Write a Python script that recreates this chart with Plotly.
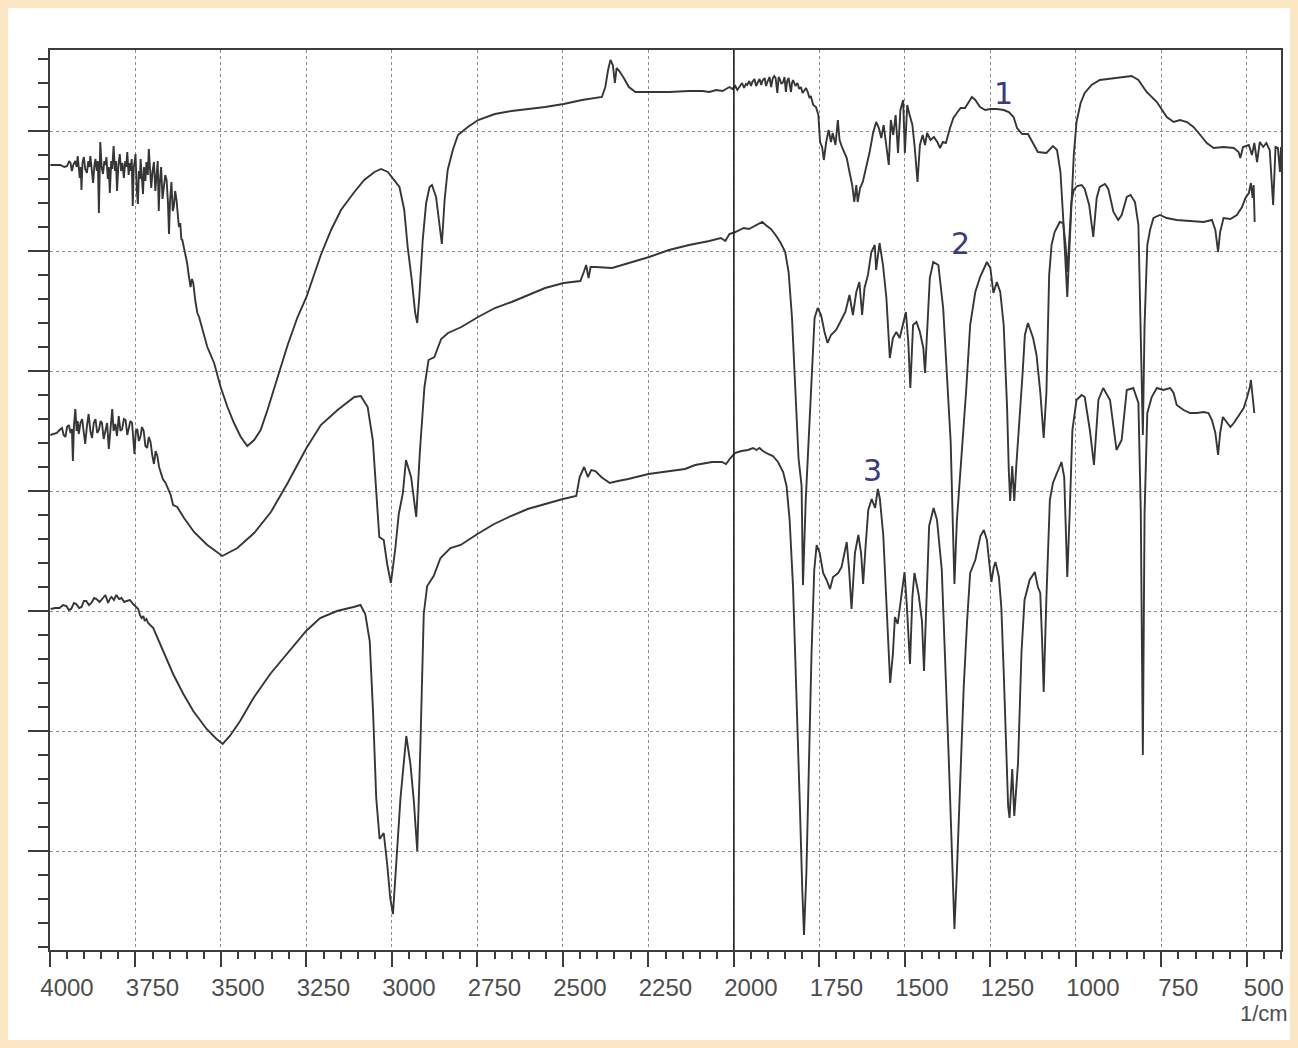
import plotly.graph_objects as go

# IR spectra (wavenumber in 1/cm, transmittance in arbitrary offset units)
spectrum1 = [
    (3999,686),(3985,686),(3970,686),(3958,684),(3950,685),(3944,690),(3940,688),(3936,680),(3932,686),(3926,690),
    (3922,684),(3919,695),(3916,680),(3913,673),(3910,684),(3908,661),(3905,688),(3901,694),(3897,682),(3892,678),
    (3888,690),(3885,684),(3882,695),(3878,680),(3874,668),(3870,686),(3867,692),(3863,680),(3860,690),(3857,638),
    (3855,690),(3853,709),(3849,684),(3845,677),(3841,690),(3838,686),(3835,694),(3831,672),(3828,684),(3825,658),
    (3821,690),(3818,682),(3814,705),(3810,680),(3807,690),(3804,660),(3800,686),(3796,697),(3792,680),(3788,688),
    (3784,673),(3780,690),(3777,684),(3774,699),(3770,676),(3767,688),(3765,680),(3761,692),(3758,645),(3755,684),
    (3752,690),(3750,697),(3746,660),(3743,647),(3740,680),(3737,672),(3735,692),(3731,666),(3728,657),(3725,684),
    (3721,670),(3718,689),(3714,676),(3711,702),(3707,672),(3704,663),(3700,680),(3696,689),(3692,660),(3688,674),
    (3685,690),(3682,640),(3679,668),(3675,684),(3671,652),(3667,664),(3663,676),(3659,671),(3655,648),(3652,617),
    (3649,650),(3645,669),(3641,640),(3638,644),(3634,660),(3630,651),(3626,635),(3623,624),(3619,628),(3616,612),
    (3613,611),(3609,605),(3606,598),(3602,592),(3599,588),(3594,575),(3589,564),(3585,572),(3581,568),(3575,550),
    (3569,538),(3564,534),(3559,528),
    (3540,504),(3520,488),(3501,464),(3481,444),(3462,428),(3442,414),(3423,405),(3403,411),(3384,421),
    (3364,441),(3345,461),(3325,484),(3305,506),(3276,534),(3250,554),(3227,578),(3208,596),(3178,621),(3149,641),
    (3110,659),(3081,671),(3051,679),(3032,682),(3012,679),(2993,671),(2978,664),(2964,641),(2954,604),(2942,571),
    (2932,538),(2926,528),(2920,554),(2910,611),(2900,648),(2890,664),(2883,666),(2871,654),(2861,624),(2854,607),
    (2846,651),(2837,681),(2822,701),(2807,716),(2778,724),(2748,731),(2699,737),(2650,740),(2601,742),(2552,744),
    (2498,747),(2444,751),(2386,754),(2376,764),(2368,781),(2361,791),(2354,786),(2348,768),(2343,783),(2335,780),
    (2322,773),(2307,764),(2288,759),(2248,759),(2190,759),(2131,760),(2092,760),(2072,759),(2052,761),(2033,760),
    (2013,764),(2004,762),(1996,765),(1990,761),(1985,764),(1980,767),(1976,768),(1970,763),(1965,767),(1961,766),
    (1955,770),(1950,765),(1946,769),(1940,772),(1935,765),(1931,768),(1925,772),(1920,766),(1917,770),(1910,773),
    (1906,765),(1902,769),(1896,774),(1891,764),(1887,772),(1882,775),(1878,773),(1873,758),(1869,774),(1866,772),
    (1861,767),(1856,769),(1852,774),(1848,759),(1844,770),(1840,773),(1836,766),(1833,759),(1830,768),(1827,771),
    (1820,765),(1814,768),(1809,762),(1804,764),(1799,758),(1794,761),(1789,763),(1784,759),(1779,753),(1775,755),
    (1768,746),(1760,744),(1753,736),(1748,709),(1742,704),(1737,691),(1730,709),
    (1723,721),(1716,709),(1711,718),(1703,706),(1696,731),(1691,711),(1684,704),(1677,698),(1670,693),(1662,679),
    (1654,666),(1648,649),(1642,666),(1638,649),(1631,663),(1623,669),(1613,683),(1603,699),(1593,718),(1584,729),
    (1576,723),(1569,713),(1562,726),(1554,706),(1547,686),(1541,731),(1534,716),(1527,736),(1520,698),(1513,741),
    (1505,751),(1500,698),(1493,746),(1486,736),(1478,726),(1471,703),(1463,669),(1456,706),(1448,716),(1441,706),
    (1435,718),(1425,711),(1415,714),(1405,709),(1397,703),(1389,709),(1380,708),(1368,723),(1358,733),(1348,738),
    (1337,743),(1324,743),(1314,749),(1304,754),(1294,751),(1280,744),(1265,741),(1250,742),(1231,742),(1211,741),
    (1196,739),(1182,734),(1172,723),(1157,717),(1140,717),(1125,708),(1111,699),(1086,698),(1067,705),(1055,701),
    (1045,679),(1037,633),(1030,586),(1025,554),(1020,593),(1013,653),(1006,696),(998,729),(986,748),(974,758),
    (954,766),(930,771),(890,773),(861,774),(837,775),(817,771),(793,759),(763,749),(734,734),(714,729),
    (695,731),(675,729),(656,724),(636,716),(617,708),(597,703),(568,704),(538,703),(524,699),(519,693),
    (511,704),(494,706),(485,696),(478,708),(470,689),(462,709),(452,704),(443,708),(433,701),(423,646),
    (416,704),(409,703),(403,679),(400,704),
]

spectrum2 = [
    (3999,416),(3990,417),(3980,418),(3972,421),(3965,423),(3960,416),(3955,414),(3950,424),(3945,426),(3940,418),
    (3936,422),(3933,390),(3930,425),(3926,442),(3922,420),(3919,430),(3916,417),(3911,428),(3906,432),(3901,418),
    (3897,407),(3892,425),(3887,437),(3882,420),(3877,413),(3872,428),(3867,432),(3862,418),(3857,421),(3852,430),
    (3848,428),(3843,412),(3838,419),(3833,428),(3828,402),(3823,425),(3818,442),(3814,420),(3809,427),(3804,415),
    (3799,435),(3794,420),(3789,422),(3784,432),(3779,431),(3774,416),(3770,421),(3765,430),(3760,428),(3756,414),
    (3753,397),(3749,420),(3745,422),(3740,410),(3735,415),(3731,424),(3726,420),(3721,405),(3716,403),(3711,414),
    (3706,409),(3701,396),(3696,387),(3691,400),(3686,395),(3681,384),(3677,380),(3670,372),(3662,368),
    (3647,356),(3640,346),(3628,344),(3608,333),(3579,319),(3540,306),
    (3496,295),(3452,303),(3403,318),(3354,339),(3305,368),(3250,403),(3208,426),(3159,441),(3110,454),(3091,455),
    (3071,444),(3056,411),(3047,368),(3037,314),(3024,311),(3014,287),(3003,268),(2990,303),(2980,337),(2968,358),
    (2959,391),(2944,374),(2929,334),(2918,401),(2905,464),(2893,491),(2876,494),(2856,512),(2836,518),(2797,524),
    (2748,534),(2699,543),(2650,549),(2601,556),(2552,563),(2498,568),(2449,570),(2439,579),(2432,586),(2425,573),
    (2419,584),(2405,584),(2356,583),(2307,588),(2248,594),(2190,601),(2131,606),(2072,610),(2038,613),(2025,610),
    (2013,617),(1996,619),(1985,621),(1971,623),(1956,622),(1941,625),(1927,627),(1917,629),(1907,626),(1892,622),
    (1878,616),(1863,608),(1850,599),(1840,579),(1830,533),(1821,466),(1811,393),(1802,365),(1798,266),(1790,350),
    (1780,420),(1772,473),(1764,533),(1755,543),(1745,536),(1735,519),(1726,508),(1716,516),(1701,521),(1686,531),
    (1674,539),(1662,556),(1652,536),(1642,559),(1633,569),(1625,536),(1618,563),(1608,576),(1598,599),(1588,606),
    (1584,581),(1574,608),(1564,586),(1554,553),(1544,493),(1535,513),(1525,519),(1515,513),(1505,529),(1497,539),
    (1490,509),(1484,463),(1476,526),(1466,529),(1456,519),(1446,503),(1441,478),(1435,526),(1427,573),(1417,589),
    (1402,586),(1388,543),(1376,476),(1366,409),(1360,330),(1355,267),(1348,330),(1331,410),(1321,459),(1309,526),
    (1294,559),(1280,574),(1260,589),(1250,583),(1241,558),(1231,569),(1221,559),(1211,526),(1201,443),(1196,380),
    (1192,350),(1186,385),(1180,350),(1174,386),(1164,433),(1156,476),(1149,516),(1140,528),(1125,513),(1115,496),
    (1104,459),(1094,413),(1086,459),(1078,576),(1071,606),(1062,619),(1047,629),(1037,628),(1030,606),(1025,579),
    (1020,606),(1013,649),(1006,661),(996,665),(983,666),(974,662),(961,646),(949,614),(939,653),(930,664),
    (915,667),(905,662),(890,639),(876,631),(866,636),(851,654),(840,656),(827,649),(817,626),(810,526),
    (804,416),(799,526),(791,606),(783,621),(773,633),(754,636),(734,633),(705,631),(666,630),(626,629),
    (602,631),(592,621),(584,599),(578,619),(568,633),(548,632),(529,636),(514,644),(504,653),(494,658),
    (488,668),(483,653),(480,666),(477,629),
]

spectrum3 = [
    (3998,242),(3985,243),(3972,243),(3962,246),(3952,245),(3945,241),(3938,242),(3930,248),(3923,247),(3915,243),
    (3908,244),(3901,250),(3894,250),(3886,246),(3879,248),(3871,253),(3864,252),(3855,249),(3845,253),(3838,256),
    (3830,248),(3825,252),(3820,254),(3813,251),(3806,256),(3798,252),(3791,253),(3783,249),(3776,250),(3766,251),
    (3757,247),(3750,245),(3742,242),(3737,236),(3732,233),(3727,235),(3723,230),(3718,232),(3713,228),
    (3698,223),(3669,200),(3640,177),(3610,157),(3581,140),(3542,122),(3513,112),(3495,107),(3474,115),(3444,130),
    (3405,153),(3356,177),(3307,197),(3251,220),(3210,233),(3161,240),(3112,244),(3092,246),(3078,237),(3065,210),
    (3055,137),(3046,53),(3036,12),(3024,18),(3014,-13),(3005,-47),(2997,-63),(2987,-13),(2975,53),(2958,115),
    (2946,87),(2936,50),(2926,0),(2917,103),(2907,237),(2897,265),(2878,275),(2858,293),(2829,303),(2799,306),
    (2750,317),(2701,327),(2652,335),(2603,342),(2554,347),(2500,352),(2461,355),(2451,374),(2438,384),(2427,374),
    (2417,381),(2405,380),(2388,374),(2363,368),(2339,370),(2309,372),(2250,377),(2192,380),(2143,382),(2113,386),
    (2064,389),(2035,389),(2023,387),(2010,393),(1997,398),(1978,400),(1959,401),(1944,403),(1934,401),(1925,403),
    (1915,400),(1900,397),(1886,395),(1871,389),(1856,379),(1846,365),(1837,331),(1827,264),(1817,163),(1807,45),
    (1800,-39),(1795,-84),(1788,-22),(1781,96),(1773,197),(1765,281),(1758,306),(1749,298),(1739,278),(1729,271),
    (1719,262),(1710,274),(1695,278),(1685,284),(1670,309),(1663,281),(1656,242),(1646,298),(1636,316),(1628,298),
    (1622,267),(1615,304),(1607,341),(1597,352),(1587,343),(1579,362),(1573,352),(1563,315),(1553,247),(1543,168),
    (1535,197),(1529,234),(1521,227),(1509,257),(1501,279),(1494,244),(1485,187),(1478,254),(1472,278),(1460,257),
    (1450,230),(1444,180),(1436,264),(1429,325),(1416,343),(1406,331),(1392,281),(1382,197),(1372,96),(1362,-5),
    (1355,-78),(1348,-22),(1338,79),(1328,163),(1318,230),(1309,278),(1294,291),(1279,315),(1269,321),(1260,311),
    (1255,294),(1247,269),(1240,284),(1235,289),(1225,274),(1218,244),(1211,180),(1204,96),(1198,45),(1194,33),
    (1186,82),(1180,35),(1169,88),(1159,198),(1150,251),(1135,271),(1120,279),(1111,264),(1104,258),(1098,204),
    (1094,159),(1086,254),(1076,351),(1067,368),(1052,381),(1042,389),(1034,374),(1025,274),(1018,338),(1010,421),
    (998,451),(983,456),(974,454),(959,421),(947,386),(934,451),(920,463),(900,451),(881,401),(866,411),
    (851,461),(832,463),(817,448),(810,338),(804,96),(799,338),(791,438),(778,454),(763,463),(744,461),
    (724,463),(714,458),(705,446),(685,441),(666,438),(646,438),(626,439),(612,438),(602,431),(592,418),
    (584,396),(578,418),(570,434),(558,429),(548,424),(538,428),(529,433),(519,438),(509,443),(499,454),
    (491,464),(488,471),(484,458),(480,438),(478,438),
]

# spectrum labels (handwritten numbers): text, wavenumber, transmittance
labels = [("1", 1213, 758), ("2", 1336, 608), ("3", 1594, 381)]

x_tick_values = [4000, 3750, 3500, 3250, 3000, 2750, 2500, 2250, 2000, 1750, 1500, 1250, 1000, 750, 500]
x_range = [4000, 400]
y_range = [-99, 801]
scale_break = 2000

LINE = "#363636"
AXIS = "#3c3c3c"
GRID = "#8a8a8a"
TEXT = "#4d4d4d"

fig = go.Figure()
for name, spec in (("1", spectrum1), ("2", spectrum2), ("3", spectrum3)):
    xs = [p[0] for p in spec]
    ys = [p[1] for p in spec]
    fig.add_trace(go.Scatter(x=xs, y=ys, mode="lines", name=name,
                             line=dict(color=LINE, width=1.9), showlegend=False,
                             hoverinfo="skip"))

fig.add_shape(type="line", x0=scale_break, x1=scale_break, xref="x",
              y0=0, y1=1, yref="paper", line=dict(color="#1e1e1e", width=1.6), layer="above")

for txt, wx, ty in labels:
    fig.add_annotation(x=wx, y=ty, text=txt, showarrow=False,
                       font=dict(family="DejaVu Sans", size=30, color="#3b3a7a"))

fig.add_annotation(x=500, xref="x", y=-0.071, yref="paper", yanchor="middle",
                   text="1/cm", showarrow=False, xshift=17,
                   font=dict(family="Liberation Sans", size=22, color=TEXT))

fig.update_xaxes(range=x_range, tickmode="array", tickvals=x_tick_values,
                 ticktext=[str(v) for v in x_tick_values],
                 ticks="outside", ticklen=15, tickwidth=2, tickcolor=AXIS,
                 ticklabelshift=-17, ticklabelstandoff=0,
                 tickfont=dict(family="Liberation Sans", size=24, color=TEXT),
                 minor=dict(dtick=50, tick0=4000, ticks="outside", ticklen=7, tickwidth=1.5,
                            tickcolor=AXIS, showgrid=False),
                 showgrid=True, gridcolor=GRID, griddash="dot", gridwidth=1,
                 showline=True, linecolor=AXIS, linewidth=2.2, mirror=True,
                 zeroline=False, automargin=False)

fig.update_yaxes(range=y_range, tick0=0, dtick=120, showticklabels=False,
                 ticks="outside", ticklen=20, tickwidth=2, tickcolor=AXIS,
                 minor=dict(tick0=0, dtick=24, ticks="outside", ticklen=10, tickwidth=1.5,
                            tickcolor=AXIS, showgrid=False),
                 showgrid=True, gridcolor=GRID, griddash="dot", gridwidth=1,
                 showline=True, linecolor=AXIS, linewidth=2.2, mirror=True,
                 zeroline=False, automargin=False)

fig.update_layout(width=1282, height=1032, template="none",
                  margin=dict(l=42, r=9, t=42, b=90),
                  paper_bgcolor="white", plot_bgcolor="white")

fig.write_html("out.html",
               post_script="document.body.style.background='#fbe6c3';document.body.style.margin='8px';")
